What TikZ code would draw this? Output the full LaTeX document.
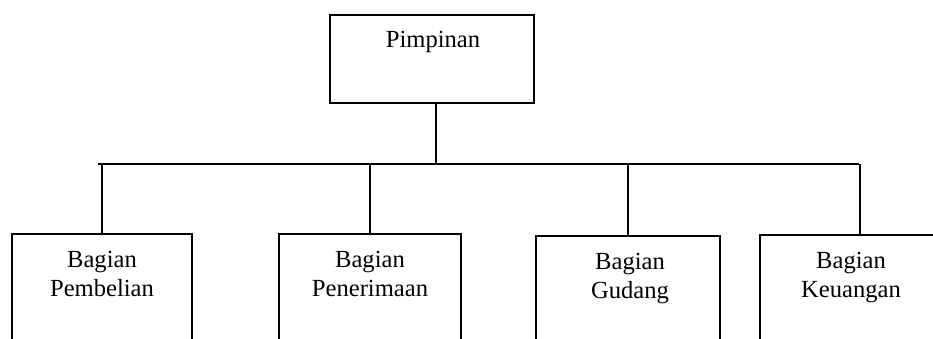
\documentclass[tikz,border=0pt]{standalone}
\usepackage{fontspec}
\setmainfont{Liberation Serif}
\begin{document}
\begin{tikzpicture}[x=1pt,y=-1pt,
  box/.style={draw, line width=1.6pt, rectangle, inner sep=0pt},
  lbl/.style={font=\fontsize{24.6}{29}\selectfont, align=center, inner sep=0pt},
  conn/.style={line width=1.6pt}]
\useasboundingbox (0,0) rectangle (933,338);
\clip (0,0) rectangle (933,338);
% top box
\node[box, minimum width=204, minimum height=88] (top) at (432,59) {};
\node[lbl, anchor=base] (toptxt) at (433,47) {Pimpinan};
% bottom boxes (open at the bottom edge)
\node[box, anchor=north, minimum width=180, minimum height=140] (b1) at (102,233) {};
\node[box, anchor=north, minimum width=182, minimum height=140] (b2) at (370,233) {};
\node[box, anchor=north, minimum width=184, minimum height=140] (b3) at (628,235) {};
\node[box, anchor=north, minimum width=200, minimum height=140] (b4) at (860,234) {};
\node[lbl, anchor=north] (t1) at (102,251) {Bagian\\Pembelian};
\node[lbl, anchor=north] (t2) at (370,251) {Bagian\\Penerimaan};
\node[lbl, anchor=north] (t3) at (630,253) {Bagian\\Gudang};
\node[lbl, anchor=north] (t4) at (851,252) {Bagian\\Keuangan};
% connectors
\coordinate (busL) at (98,164);
\coordinate (busR) at (859,164);
\draw[conn] (busL) -- (busR);
\draw[conn] ([xshift=4pt]top.south) -- ([xshift=4pt]top.south |- busL);
\draw[conn] (b1.north) -- (b1.north |- busL);
\draw[conn] (b2.north) -- (b2.north |- busL);
\draw[conn] (b3.north) -- (b3.north |- busL);
\draw[conn] (b4.north) -- (b4.north |- busL);
\end{tikzpicture}
\end{document}
